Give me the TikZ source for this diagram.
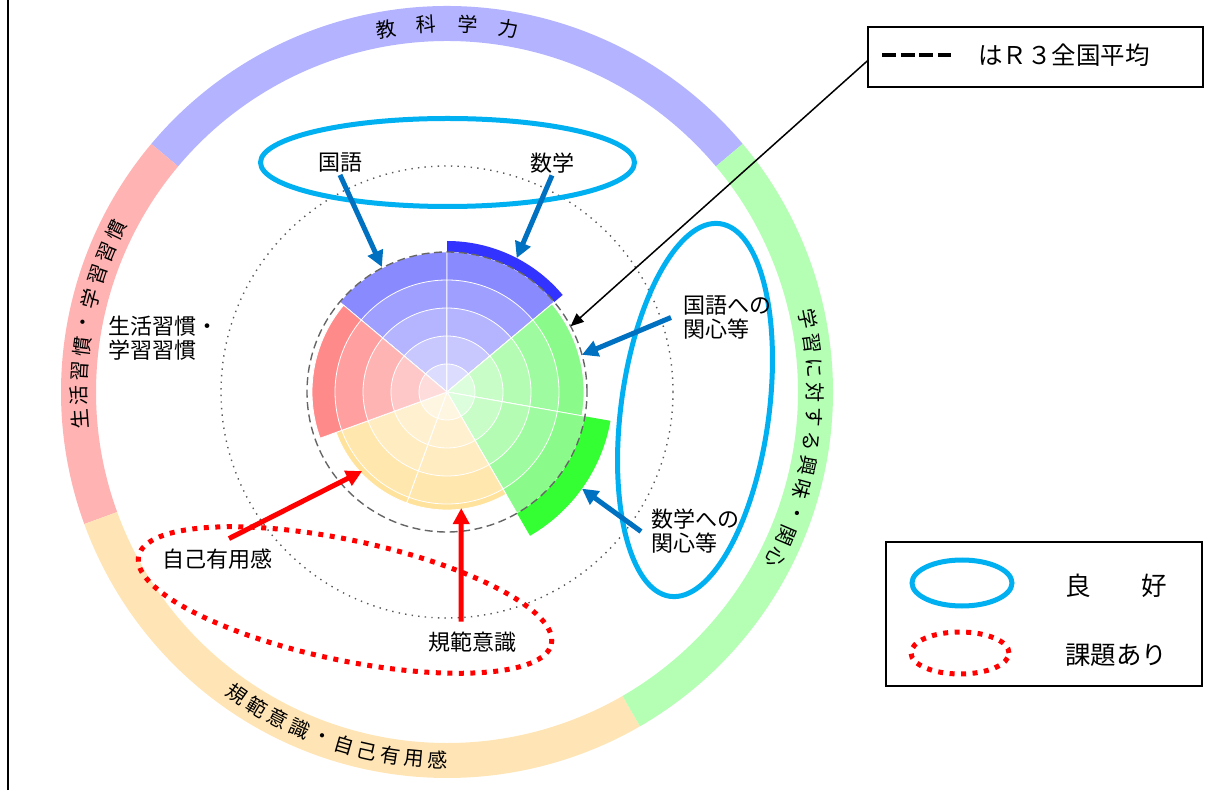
\documentclass[tikz,border=0pt]{standalone}
\usepackage{fontspec}
\setmainfont{Noto Sans CJK JP}
\usetikzlibrary{arrows.meta,positioning}

\definecolor{blueset}{HTML}{8A8AFF}
\definecolor{redset}{HTML}{FF8A8A}
\definecolor{yellowset}{HTML}{FFE29C}
\definecolor{greenset}{HTML}{8AFA8A}
\definecolor{ringblue}{HTML}{B3B3FF}
\definecolor{ringred}{HTML}{FFB3B3}
\definecolor{ringyellow}{HTML}{FFE5B5}
\definecolor{ringgreen}{HTML}{B5FFB5}
\definecolor{mathdark}{HTML}{3333FF}
\definecolor{mathbright}{HTML}{33FF33}
\definecolor{goodcyan}{HTML}{00B0F0}
\definecolor{arrowblue}{HTML}{0070C0}

\tikzset{
  chartlbl/.style={font=\fontsize{22}{24}\selectfont, inner sep=2pt, align=left},
  ringtxt/.style={font=\fontsize{20}{20}\selectfont, inner sep=0pt},
  keytxt/.style={font=\fontsize{25.5}{27}\selectfont, inner sep=0pt},
  goodring/.style={draw=goodcyan, line width=5pt},
  issuering/.style={draw=red, line width=5pt, dash pattern=on 5pt off 6.5pt},
  bluearrow/.style={draw=arrowblue, line width=5pt, -{Triangle[length=16pt,width=16pt]}},
  redarrow/.style={draw=red, line width=5pt, -{Triangle[length=16pt,width=16pt]}},
  keybox/.style={draw, line width=1.5pt, inner sep=0pt}
}

\begin{document}
\begin{tikzpicture}[x=1pt,y=1pt]
\useasboundingbox (0,0) rectangle (1214,790);

 % left border
    \draw[line width=2pt] (8,0) -- (8,790);

\begin{scope}[shift={(447,398)}]
 % outer ring with the four groups
    \foreach \a/\b/\c in {40/140/ringblue, 140/200/ringred, 200/300/ringyellow, 300/400/ringgreen}
       \fill[\c] (\a:351) arc[start angle=\a, end angle=\b, radius=351] -- (\b:386) arc[start angle=\b, end angle=\a, radius=386] -- cycle;

 % ring texts
    \foreach \ch [count=\i from 0] in {教,科,学,力}
       \node[ringtxt, rotate=9.6-6.4*\i] (kyoka\i) at ({99.6-6.4*\i}:368) {\ch};
    \foreach \ch [count=\i from 0] in {生,活,習,慣,・,学,習,習,慣}
       \node[ringtxt, rotate=94.3-3.8*\i] (seikatsu\i) at ({184.3-3.8*\i}:368) {\ch};
    \foreach \ch [count=\i from 0] in {学,習,に,対,す,る,興,味,・,関,心}
       \node[ringtxt, rotate=-78.6-3.82*\i] (kanshin\i) at ({11.4-3.82*\i}:368) {\ch};
    \foreach \ch [count=\i from 0] in {規,範,意,識,・,自,己,有,用,感}
       \node[ringtxt, rotate=325.2+3.71*\i] (kihan\i) at ({235.2+3.71*\i}:368) {\ch};

 % dotted guide circle
    \draw[gray!70!black, line width=1.4pt, dash pattern=on 1.4pt off 5.2pt] (0,0) circle[radius=226];

 % sectors, five bands each
    \foreach \a/\b/\r/\c in {90/140/140/blueset, 40/90/140/blueset, 350/400/137/greenset, 300/350/140/greenset, 250/300/118/yellowset, 200/250/118/yellowset, 140/200/135/redset}{
       \foreach \k/\p in {5/100, 4/82, 3/64, 2/47, 1/30}{
          \pgfmathsetmacro\rr{min(\r,28*\k)}
          \filldraw[fill=\c!\p!white, draw=white, line width=0.8pt] (0,0) -- (\a:\rr) arc[start angle=\a, end angle=\b, radius=\rr] -- cycle;
       }
    }

 % parts above the R3 average
    \fill[mathdark] (40:140) arc[start angle=40, end angle=90, radius=140] -- (90:151) arc[start angle=90, end angle=40, radius=151] -- cycle;
    \fill[mathbright] (300:140) arc[start angle=300, end angle=350, radius=140] -- (350:166) arc[start angle=350, end angle=300, radius=166] -- cycle;

 % R3 average
    \draw[gray!80!black, line width=1.4pt, dash pattern=on 8pt off 4.5pt] (0,0) circle[radius=140];

 % arrow tips on the chart
    \coordinate (kokugoTip) at (117.5:141);
    \coordinate (suugakuTip) at (62.5:151);
    \coordinate (kokugoIntTip) at (15.4:140);
    \coordinate (suugakuIntTip) at (-35.6:166);
    \coordinate (jikoTip) at (223:116);
    \coordinate (kihanTip) at (277:117);
    \coordinate (avgTip) at (28:140);
\end{scope}

 % ellipses
    \draw[goodring] (447.5,627.5) ellipse[x radius=187, y radius=44];
    \draw[goodring, rotate around={-7.6:(695,380)}] (695,380) ellipse[x radius=74, y radius=188];
    \draw[issuering, rotate around={-12:(345,190)}] (345,190) ellipse[x radius=211, y radius=60];

 % labels
    \node[chartlbl] (kokugo) at (340,627) {国語};
    \node[chartlbl] (suugaku) at (552,627) {数学};
    \node[chartlbl, anchor=west] (seikatsu) at (106,451.5) {生活習慣・\\学習習慣};
    \node[chartlbl, anchor=west] (kokugoInt) at (681,472.5) {国語への\\関心等};
    \node[chartlbl, anchor=west] (suugakuInt) at (649,258.5) {数学への\\関心等};
    \node[chartlbl] (jiko) at (217,231) {自己有用感};
    \node[chartlbl] (kihan) at (472,148) {規範意識};

 % arrows
    \draw[bluearrow] (kokugo.south) -- (kokugoTip);
    \draw[bluearrow] (suugaku.south) -- (suugakuTip);
    \draw[bluearrow] ([xshift=-10pt]kokugoInt.west) -- (kokugoIntTip);
    \draw[bluearrow] ([xshift=-8pt]suugakuInt.west) -- (suugakuIntTip);
    \draw[redarrow] ([xshift=12pt,yshift=8pt]jiko.north) -- (jikoTip);
    \draw[redarrow] ([xshift=-11pt,yshift=8pt]kihan.north) -- (kihanTip);

 % legend of the average
    \node[keybox, minimum width=335pt, minimum height=60pt] (avgbox) at (1035.5,733) {};
    \draw[line width=4pt, dash pattern=on 14pt off 4.5pt] ([xshift=15pt,yshift=2pt]avgbox.west) -- ++(69,0);
    \node[font=\fontsize{24.5}{26}\selectfont, inner sep=0pt] (avgtxt) at (1064,735) {はＲ３全国平均};
    \draw[line width=1.5pt, -{Triangle[length=13pt,width=11pt]}] ([yshift=-4pt]avgbox.west) -- (avgTip);

 % legend of the ellipses
    \node[keybox, minimum width=316pt, minimum height=144pt] (keylegend) at (1044,176) {};
    \draw[goodring] (962,207) ellipse[x radius=50, y radius=23];
    \draw[issuering] (960,137) ellipse[x radius=49, y radius=21];
    \node[keytxt] (goodtxt) at (1116,204) {良　　好};
    \node[keytxt] (issuetxt) at (1116,135) {課題あり};

\end{tikzpicture}
\end{document}
